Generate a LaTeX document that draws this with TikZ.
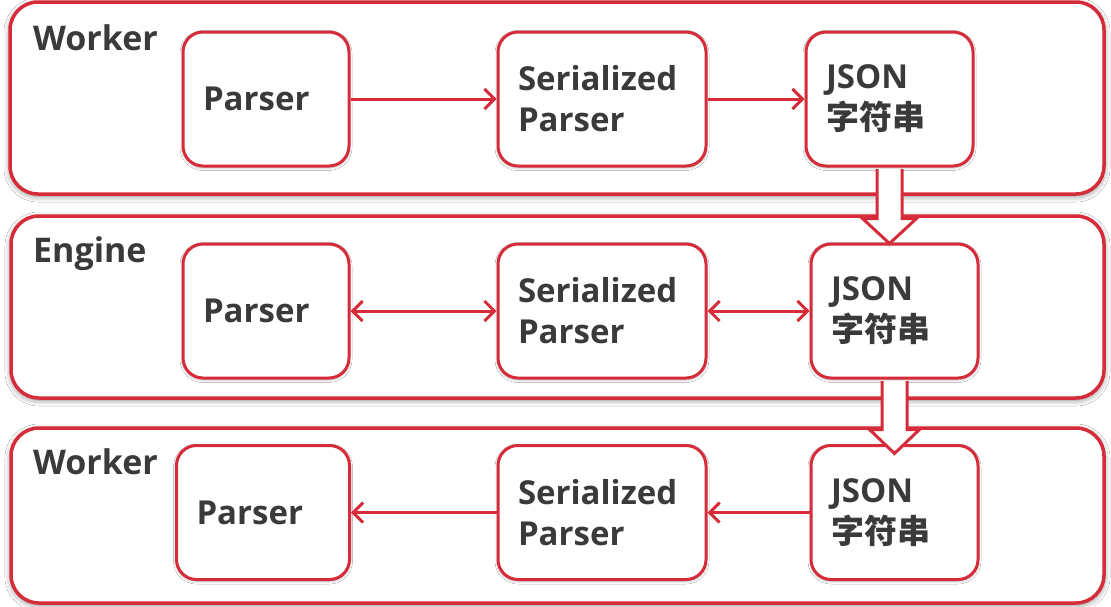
\documentclass[tikz,border=0pt]{standalone}
\usepackage{fontspec}
\setmainfont{Open Sans}
\newfontfamily\cjk{Noto Sans CJK SC}
\usetikzlibrary{arrows.meta,calc,shadows.blur}
\definecolor{rd}{RGB}{214,44,58}
\definecolor{txt}{RGB}{58,58,58}
\begin{document}
\begin{tikzpicture}[x=1pt,y=-1pt,
  outer/.style={draw=rd, line width=3.5pt, rounded corners=28pt, fill=white,
    blur shadow={shadow xshift=0pt, shadow yshift=-2pt, shadow blur radius=6pt, shadow opacity=50}},
  box/.style={draw=rd, line width=3pt, rounded corners=20pt, fill=white,
    minimum height=134pt, inner xsep=20pt, inner ysep=0pt, align=left, text=txt,
    font=\fontsize{33}{41}\selectfont\bfseries,
    blur shadow={shadow xshift=0pt, shadow yshift=-1.5pt, shadow blur radius=3pt, shadow opacity=35}},
  lbl/.style={anchor=base west, inner sep=0pt, text=txt, font=\fontsize{34}{40}\selectfont\bfseries},
  tip/.tip={Straight Barb[length=10pt,width=20pt,line width=3pt]},
  conn/.style={draw=rd, line width=3pt, -tip},
  bconn/.style={draw=rd, line width=3pt, tip-tip},
  blockarrow/.style={draw=rd, line width=3pt, fill=white, line join=miter}
]
\useasboundingbox (0,0) rectangle (1111,606);
\fill[white] (0,0) rectangle (1111,606);

% outer panels
\node[outer, minimum width=1094pt, minimum height=192pt] (o1) at (557,98) {};
\node[outer, minimum width=1093pt, minimum height=182pt] (o2) at (557.5,307) {};
\node[outer, minimum width=1093pt, minimum height=175pt] (o3) at (557.5,515.5) {};

\node[lbl] (l1) at (33,50) {Worker};
\node[lbl] (l2) at (33,262) {Engine};
\node[lbl] (l3) at (33,474) {Worker};

% row 1
\node[box, text width=126pt] (p1) at (266,99) {Parser};
\node[box, text width=168pt] (s1) at (602,99) {Serialized\\Parser};
\node[box, text width=127pt] (j1) at (889.5,99) {JSON\\{\cjk 字符串}};
% row 2
\node[box, text width=126pt] (p2) at (266,311) {Parser};
\node[box, text width=168pt] (s2) at (602,311) {Serialized\\Parser};
\node[box, text width=127pt] (j2) at (894.5,311) {JSON\\{\cjk 字符串}};
% row 3
\node[box, text width=133pt] (p3) at (263,512.5) {Parser};
\node[box, text width=168pt] (s3) at (602,512.5) {Serialized\\Parser};
\node[box, text width=127pt] (j3) at (894.5,512.5) {JSON\\{\cjk 字符串}};

% connectors
\draw[conn] (p1) -- (s1);
\draw[conn] (s1) -- (j1);
\draw[bconn] (p2) -- (s2);
\draw[bconn] (s2) -- (j2);
\draw[conn] (s3) -- (p3);
\draw[conn] (j3) -- (s3);

% block arrows
\draw[blockarrow]
  ($(j1.south)+(-12.5,1.5)$) -- ($(j1.south)+(-12.5,51)$) -- ($(j1.south)+(-27,51)$)
  -- ($(j1.south)+(0,76)$) -- ($(j1.south)+(27,51)$) -- ($(j1.south)+(12.5,51)$)
  -- ($(j1.south)+(12.5,1.5)$);
\draw[blockarrow]
  ($(j2.south)+(-12.5,1.5)$) -- ($(j2.south)+(-12.5,50)$) -- ($(j2.south)+(-25,50)$)
  -- ($(j2.south)+(0,74)$) -- ($(j2.south)+(25,50)$) -- ($(j2.south)+(12.5,50)$)
  -- ($(j2.south)+(12.5,1.5)$);
\end{tikzpicture}
\end{document}
